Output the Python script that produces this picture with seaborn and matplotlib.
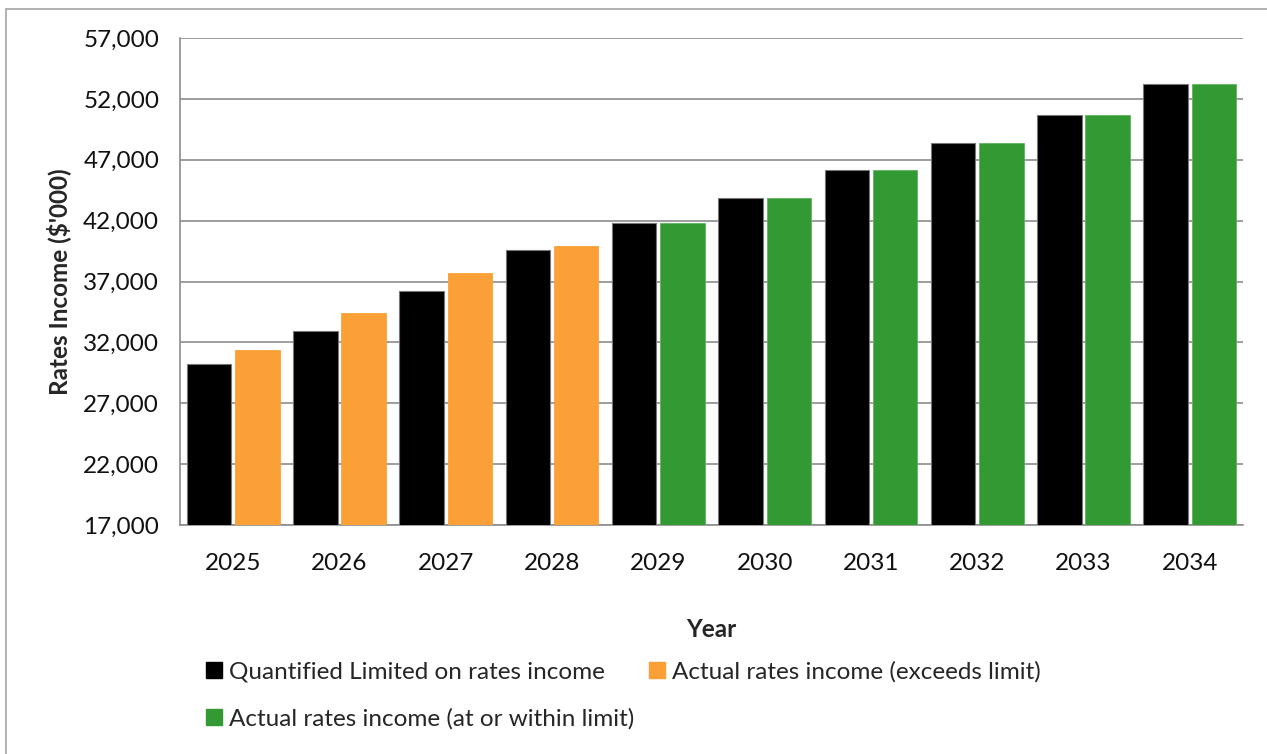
import matplotlib
matplotlib.use("Agg")
import matplotlib.pyplot as plt
import matplotlib.lines as mlines
import matplotlib.patches as mpatches
import numpy as np
import pandas as pd
import seaborn as sns

# Data ($'000)
years = ["2025", "2026", "2027", "2028", "2029", "2030", "2031", "2032", "2033", "2034"]
limit_income = [30200, 32900, 36180, 39600, 41810, 43890, 46120, 48370, 50710, 53210]
actual_income = [31380, 34400, 37680, 39890, 41810, 43890, 46120, 48370, 50710, 53210]
y_ticks = [17000, 22000, 27000, 32000, 37000, 42000, 47000, 52000, 57000]

label_limit = "Quantified Limited on rates income"
label_exceeds = "Actual rates income (exceeds limit)"
label_within = "Actual rates income (at or within limit)"

BLACK = "#000000"
ORANGE = "#FAA037"
GREEN = "#339933"
GRID = "#8C8C8C"
FS = 17.5

sns.set_theme(style="white")
plt.rcParams["font.family"] = ["Lato", "DejaVu Sans"]

df = pd.DataFrame({
    "Year": years * 2,
    "Income": limit_income + actual_income,
    "Series": ["limit"] * len(years) + ["actual"] * len(years),
})

fig = plt.figure(figsize=(12.67, 7.54), dpi=100)
ax = fig.add_axes([180 / 1267, 1 - 525 / 754, (1243 - 180) / 1267, (525 - 38) / 754])

sns.barplot(data=df, x="Year", y="Income", hue="Series", hue_order=["limit", "actual"],
            palette={"limit": BLACK, "actual": GREEN}, width=0.91, gap=0.08,
            errorbar=None, legend=False, ax=ax, zorder=3)

# Colour actual bars by whether they exceed the limit
for bar, lim, act in zip(ax.containers[1], limit_income, actual_income):
    if act > lim:
        bar.set_facecolor(ORANGE)
        bar.set_edgecolor(ORANGE)
    else:
        bar.set_facecolor(GREEN)
        bar.set_edgecolor("#5FB35F")
    bar.set_linewidth(0.6)
for bar in ax.containers[0]:
    bar.set_edgecolor("#777777")
    bar.set_linewidth(0.8)

ax.set_ylim(17000, 57000)
ax.set_xlim(-0.5, len(years) - 0.5)
ax.set_yticks(y_ticks)
ax.set_yticklabels([f"{v:,}" for v in y_ticks], fontsize=FS, color="#111111")
ax.yaxis.grid(True, color=GRID, linewidth=1.2, zorder=0)
ax.set_axisbelow(True)

ax.tick_params(axis="x", which="major", length=0, labelsize=FS, pad=20, labelcolor="#111111")
ax.set_xticks(np.arange(-0.5, len(years)), minor=True)
ax.tick_params(axis="x", which="minor", length=8, color=GRID, width=1.2, direction="out")
ax.tick_params(axis="y", length=8, color=GRID, width=1.2, direction="out", pad=7)

for side in ["top", "right"]:
    ax.spines[side].set_visible(False)
for side in ["left", "bottom"]:
    ax.spines[side].set_color(GRID)
    ax.spines[side].set_linewidth(1.2)

ax.set_ylabel("Rates Income ($'000)", fontsize=FS, fontweight="bold", labelpad=9)
ax.set_xlabel("Year", fontsize=FS, fontweight="bold", labelpad=32)

handles = [
    mpatches.Patch(color=BLACK, label=label_limit),
    mpatches.Patch(color=GREEN, label=label_within),
    mpatches.Patch(color=ORANGE, label=label_exceeds),
]
fig.legend(handles=handles, ncol=2, loc="upper left", bbox_to_anchor=(184 / 1267, 1 - 639 / 754),
           frameon=False, fontsize=FS, handlelength=0.65, handleheight=0.65,
           handletextpad=0.3, columnspacing=0.6, labelspacing=1.05)

# Chart frame on the left and top edges
fig.add_artist(mlines.Line2D([6 / 1267, 6 / 1267], [0, 1 - 9 / 754], transform=fig.transFigure,
                             color="#A6A6A6", linewidth=1.2))
fig.add_artist(mlines.Line2D([6 / 1267, 1], [1 - 9 / 754, 1 - 9 / 754], transform=fig.transFigure,
                             color="#A6A6A6", linewidth=1.2))

fig.savefig("out.png", dpi=100)
